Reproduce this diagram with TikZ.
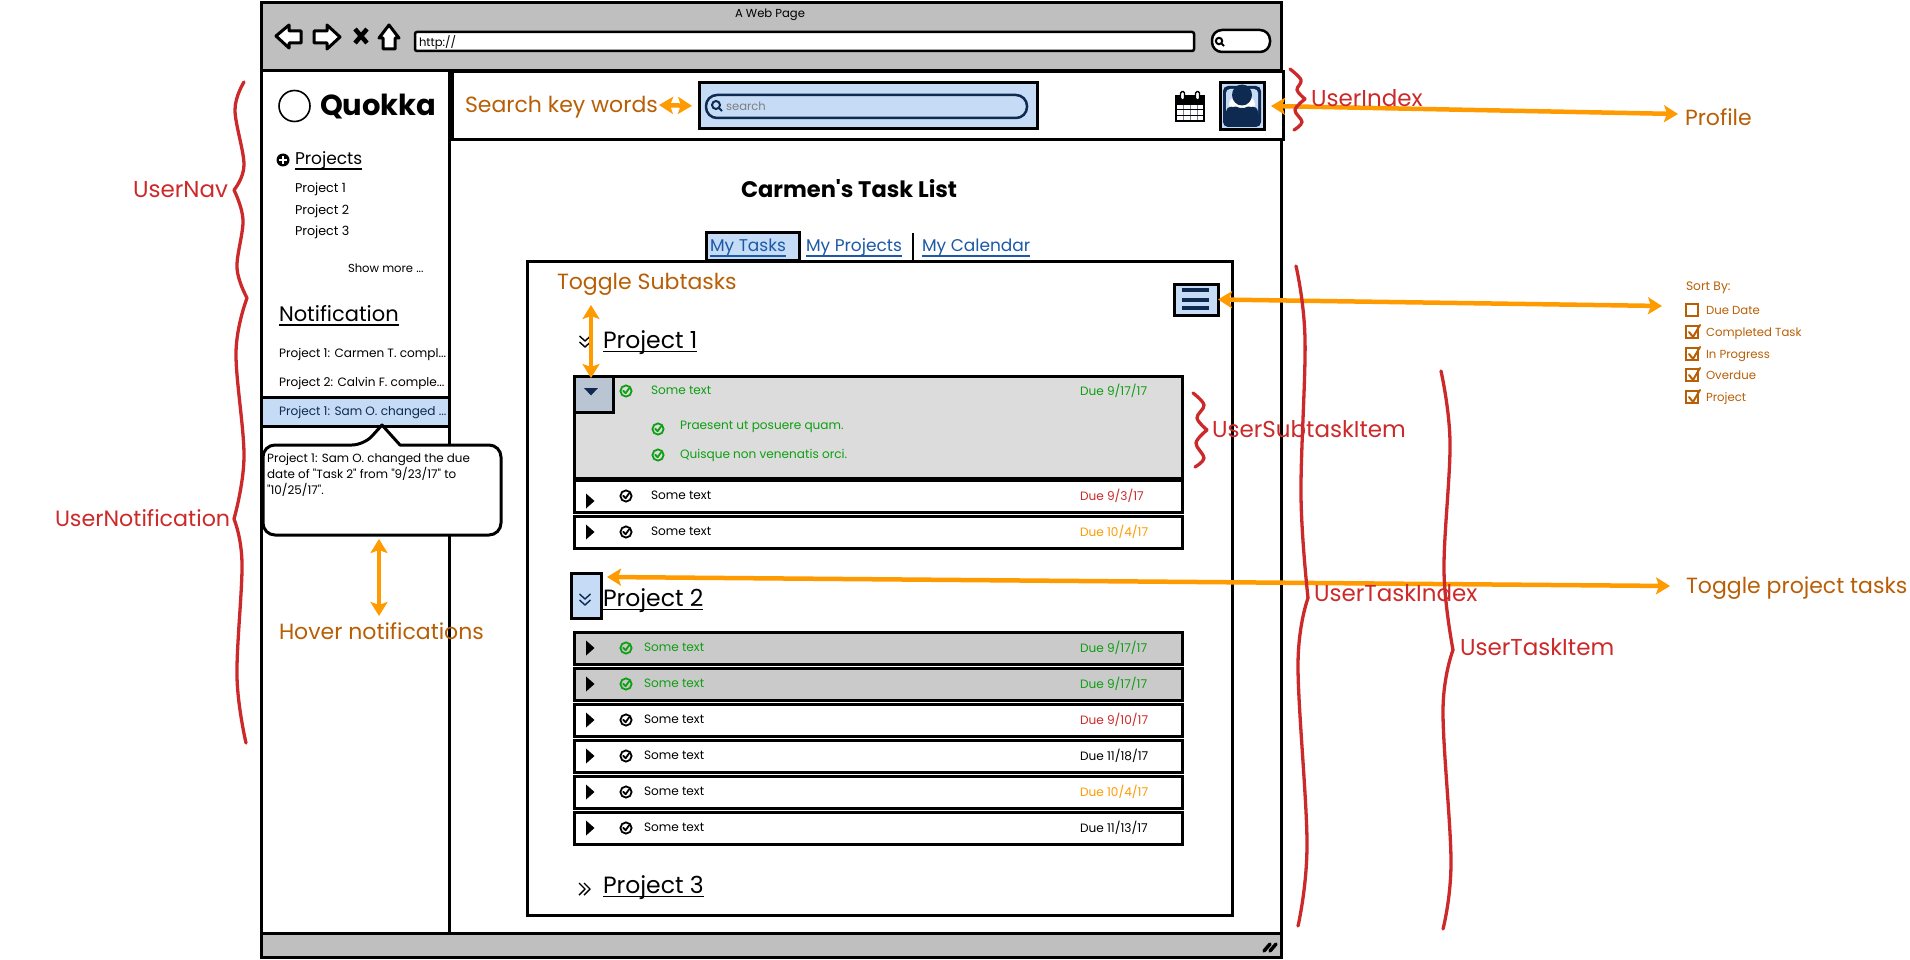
\documentclass[tikz,border=0pt]{standalone}
\usepackage{fontspec}
\setmainfont{Poppins}[Ligatures=TeXOff]
\usetikzlibrary{arrows.meta,calc}
\definecolor{gbar}{HTML}{BFBFBF}
\definecolor{lblue}{HTML}{C6DBF6}
\definecolor{navy}{HTML}{0F2A50}
\definecolor{ored}{HTML}{CC2A2A}
\definecolor{olab}{HTML}{B85F06}
\definecolor{oarr}{HTML}{FF9A00}
\definecolor{gtxt}{HTML}{0E9F12}
\definecolor{linkb}{HTML}{1C5AA6}
\definecolor{rowg}{HTML}{CACACA}
\definecolor{rowl}{HTML}{DCDCDC}
\tikzset{
  frame/.style={draw=black,line width=3pt,inner sep=0pt,outer sep=0pt,fill=white},
  txt/.style={anchor=west,inner sep=0pt,outer sep=0pt,yshift=-1.5pt,execute at begin node={\vphantom{Apj}}},
  oarrow/.style={draw=oarr,line width=4.5pt,{Stealth[length=14pt,width=17pt,inset=3pt]}-{Stealth[length=14pt,width=17pt,inset=3pt]}},
  redb/.style={draw=ored,line width=3.3pt,line cap=round,line join=round},
  lab/.style={txt,yshift=-1pt,text=olab,font=\fontsize{22}{24}\selectfont},
  redlab/.style={txt,yshift=-1pt,text=ored,font=\fontsize{23}{24}\selectfont},
  small/.style={txt,font=\fontsize{12.1}{14}\selectfont},
  head/.style={txt,yshift=-1pt,font=\fontsize{23.5}{26}\selectfont},
  tabt/.style={txt,yshift=-.5pt,text=linkb,font=\fontsize{17}{20}\selectfont},
}
% box: name, x1, y1, x2, y2, style
\newcommand{\boxn}[6]{\pgfmathsetmacro{\bw}{#4-#2}\pgfmathsetmacro{\bh}{#5-#3}
  \node[frame,anchor=north west,minimum width=\bw pt,minimum height=\bh pt,#6] (#1) at (#2,#3) {};}
\newcommand{\rcurve}[1]{\draw[redb] plot[smooth,tension=.6] coordinates {#1};}
\newcommand{\chk}[3]{\draw[#3,line width=1.8pt,fill=none] (#1,#2) circle (5.6pt);
  \draw[#3,line width=1.8pt,line cap=round,line join=round] ($(#1,#2)+(-2.8,-.3)$) -- ($(#1,#2)+(-.4,2.2)$) -- ($(#1,#2)+(3.2,-2.8)$);}
\newcommand{\tri}[2]{\fill[black] ($(#1,#2)+(-4,-7.5)$) -- ($(#1,#2)+(4.5,0)$) -- ($(#1,#2)+(-4,7.5)$) -- cycle;}
\newcommand{\dchev}[3]{\draw[#3,line width=1.4pt,line join=round] ($(#1,#2)+(-5.5,-6)$) -- ($(#1,#2)+(0,-1)$) -- ($(#1,#2)+(5.5,-6)$);
  \draw[#3,line width=1.4pt,line join=round] ($(#1,#2)+(-5.5,0)$) -- ($(#1,#2)+(0,5)$) -- ($(#1,#2)+(5.5,0)$);}
\newcommand{\uline}[2]{\draw[line width=1.4pt,#2] ($(#1.west)+(0,9)$) -- ($(#1.east)+(0,9)$);}
\def\tdy{0}
\newcommand{\row}[6]{% id, y centre, fill, text colour, textx, due
  \pgfmathsetmacro{\rt}{#2-16}\pgfmathsetmacro{\rb}{#2+16}\pgfmathsetmacro{\ty}{#2+\tdy}
  \boxn{r#1}{574}{\rt}{1182}{\rb}{fill=#3}
  \tri{590}{\ty}\chk{626}{#2}{#4}
  \node[small,text=#4] (rt#1) at (#5,#2-1) {Some text};
  \node[small,text=#6] (rd#1) at (1080,#2-1) {\dtxt};}
\newcommand{\cbx}[3]{\draw[olab,line width=1.2pt,fill=#3] (1686,#1-6) rectangle (1698,#1+6);
  \node[txt,text=olab,font=\fontsize{11.7}{15}\selectfont] at (1706,#1) {#2};}
\newcommand{\ckm}[1]{\draw[olab,line width=2pt,line cap=round] (1689,#1) -- (1693,#1+5) -- (1700,#1-7);}
\begin{document}
\begin{tikzpicture}[x=1pt,y=-1pt]
\useasboundingbox (0,0) rectangle (1910,960);
% window
\boxn{win}{261}{3}{1281}{957}{}
\boxn{top}{261}{3}{1281}{71}{fill=gbar}
\boxn{bot}{261}{933}{1281}{957}{fill=gbar}
\node[txt,anchor=center,font=\fontsize{11.6}{14}\selectfont] (title) at (770,13) {A Web Page};
\draw[line width=3pt,fill=white,line join=round] (276,36) -- (289,25) -- (289,31) -- (301,31) -- (301,43) -- (289,43) -- (289,48) -- cycle;
\draw[line width=3pt,fill=white,line join=round] (340,37) -- (327,25) -- (327,31) -- (314,31) -- (314,43) -- (327,43) -- (327,49) -- cycle;
\draw[line width=4.5pt] (355,29) -- (367,43) (367,29) -- (355,43);
\draw[line width=3pt,fill=white,line join=round] (389,25) -- (399,38) -- (395,38) -- (395,49) -- (383,49) -- (383,38) -- (379,38) -- cycle;
\boxn{url}{415}{32}{1194}{51}{line width=2.5pt,rounded corners=2pt}
\node[txt,font=\fontsize{11.6}{14}\selectfont] (http) at (419,41) {http://};
\boxn{sbx}{1212}{30}{1270}{52}{line width=2.5pt,rounded corners=10pt}
\draw[line width=2pt] (1219,41) circle (3.2pt) (1221.5,43.5) -- (1224,46);
% left nav
\boxn{nav}{261}{71}{449}{933}{}
\draw[line width=1.6pt,fill=white] (294.5,106) circle (15.5pt);
\node[txt,yshift=-1pt,font=\fontsize{29}{33}\selectfont\bfseries] (logo) at (320,105) {Quokka};
\fill (283,160) circle (6.5pt);
\draw[white,line width=2pt] (279,160) -- (287,160) (283,156) -- (283,164);
\node[txt,yshift=-.5pt,font=\fontsize{17}{19}\selectfont] (projs) at (295,158) {Projects};
\uline{projs}{yshift=2pt}
\node[txt,font=\fontsize{12.7}{14}\selectfont] (p1) at (295,188) {Project 1};
\node[txt,font=\fontsize{12.7}{14}\selectfont] (p2) at (295,210) {Project 2};
\node[txt,font=\fontsize{12.7}{14}\selectfont] (p3) at (295,231) {Project 3};
\node[txt,font=\fontsize{11.6}{14}\selectfont] (more) at (348,268) {Show more ...};
\node[txt,yshift=-.5pt,font=\fontsize{21}{24}\selectfont] (notif) at (279,314) {Notification};
\uline{notif}{}
\node[small] (n1) at (279,353) {Project 1: Carmen T. compl...};
\node[small] (n2) at (279,382) {Project 2: Calvin F. comple...};
\boxn{nhi}{261}{397}{449}{426}{fill=lblue}
\node[small,text=navy] (n3) at (279,411) {Project 1: Sam O. changed ...};
\draw[line width=3pt,fill=white,rounded corners=12pt,line join=round] (263,445) -- (364,445) [sharp corners] -- (382,425) -- (400,445) [rounded corners=12pt] -- (501,445) -- (501,535) -- (263,535) -- cycle;
\node[anchor=north west,inner sep=0pt,align=left,font=\fontsize{11.9}{16}\selectfont] (tip) at (267,453) {Project 1: Sam O. changed the due\\date of "Task 2" from "9/23/17" to\\"10/25/17".};
\coordinate (tipb) at (379,539);
\node[lab] (hover) at (279,631) {Hover notifications};
\coordinate (hovt) at (379,616);
\draw[oarrow] (tipb) -- (hovt);
% header bar
\boxn{hdr}{452}{72}{1283}{140}{}
\node[lab] (skw) at (465,104) {Search key words};
\boxn{srch}{699}{83}{1037}{129}{fill=lblue}
\boxn{spill}{706}{95}{1027}{118}{fill=lblue,draw=navy,line width=2.5pt,rounded corners=11pt}
\draw[navy,line width=2pt] (716,105) circle (4pt) (719,108) -- (722,111);
\node[txt,text=gray,font=\fontsize{11.6}{14}\selectfont] (stxt) at (726,106) {search};
\coordinate (skwe) at (659,105);
\draw[oarrow,shorten >=7pt] (skwe) -- (srch.west);
% calendar
\fill[white] (1176,94) rectangle (1203,121);
\fill (1175,96) rectangle (1204,105);
\foreach \x in {1183,1190,1197}{\draw[lblue!60!black,line width=1pt] (\x,105) -- (\x,121);}
\foreach \y in {110,115.5}{\draw[black,line width=1pt] (1176,\y) -- (1204,\y);}
\draw[line width=1.8pt] (1176,96) rectangle (1204,121);
\draw[black,fill=white,line width=1.4pt,rounded corners=1.5pt] (1180.5,91.5) rectangle (1184.5,100) (1195.5,91.5) rectangle (1199.5,100);
% avatar
\boxn{av}{1220}{83}{1264}{130}{fill=lblue}
\fill[navy,rounded corners=5pt] (1223,86) rectangle (1261,127);
\fill[lblue,rounded corners=4pt] (1226,89) rectangle (1258,124);
\fill[white] (1242,104) ellipse (13pt and 9pt);
\fill[navy,rounded corners=5pt] (1225,126) -- (1225,113) .. controls (1228,107) and (1234,106) .. (1236,105) .. controls (1240,108) and (1244,108) .. (1248,105) .. controls (1250,106) and (1256,107) .. (1259,113) -- (1259,126) -- cycle;
\fill[navy] (1242,95) ellipse (10pt and 10.5pt);
% heading and tabs
\node[txt,font=\fontsize{22.5}{25}\selectfont\bfseries] (hd) at (741,190) {Carmen's Task List};
\boxn{panel}{527}{261}{1232}{915}{}
\boxn{tab}{706}{232}{799}{260}{fill=lblue}
\node[tabt] (t1) at (710,245) {My Tasks};
\node[tabt] (t2) at (806,245) {My Projects};
\node[tabt] (t3) at (922,245) {My Calendar};
\uline{t1}{linkb,yshift=2pt}\uline{t2}{linkb,yshift=2pt}\uline{t3}{linkb,yshift=2pt}
\draw[line width=2pt] (913,233) -- (913,260);
\node[lab] (tog) at (557,282) {Toggle Subtasks};
% hamburger
\boxn{ham}{1174}{284}{1218}{315}{fill=lblue}
\foreach \y in {290,299.5,308}{\fill[navy] (1182,\y-2) rectangle (1209,\y+2);}
% project 1
\dchev{585}{342}{black}
\node[head] (pr1) at (603,340) {Project 1};
\uline{pr1}{}
\boxn{blk}{574}{376}{1182}{478}{fill=rowl}
\boxn{btn}{574}{376}{613}{412}{fill=lblue!65!gray!85}
\fill[navy] (584,388) -- (598,388) -- (591,395.5) -- cycle;
\chk{626}{391}{gtxt}
\node[small,text=gtxt] (st) at (651,390) {Some text};
\node[small,text=gtxt] (sd) at (1080,390) {Due 9/17/17};
\chk{658}{429}{gtxt}
\node[small,text=gtxt] (s1) at (680,425) {Praesent ut posuere quam.};
\chk{658}{455}{gtxt}
\node[small,text=gtxt] (s2) at (680,454) {Quisque non venenatis orci.};
\def\tdy{5}
\def\dtxt{Due 9/3/17}\row{a}{496}{white}{black}{651}{ored}
\def\tdy{0}
\def\dtxt{Due 10/4/17}\row{b}{532}{white}{black}{651}{oarr}
\coordinate (toga) at (591,305);
\coordinate (togb) at (591,378);
\draw[oarrow] (toga) -- (togb);
% project 2
\boxn{btn2}{571}{573}{601}{618}{fill=lblue}
\dchev{585}{600}{navy}
\node[head] (pr2) at (603,598) {Project 2};
\uline{pr2}{}
\def\dtxt{Due 9/17/17}\row{c}{648}{rowg}{gtxt}{644}{gtxt}
\def\dtxt{Due 9/17/17}\row{d}{684}{rowg}{gtxt}{644}{gtxt}
\def\dtxt{Due 9/10/17}\row{e}{720}{white}{black}{644}{ored}
\def\dtxt{Due 11/18/17}\row{f}{756}{white}{black}{644}{black}
\def\dtxt{Due 10/4/17}\row{g}{792}{white}{black}{644}{oarr}
\def\dtxt{Due 11/13/17}\row{h}{828}{white}{black}{644}{black}
% project 3
\draw[line width=1.4pt,line join=round] (579,883) -- (585,889) -- (579,895) (584,883) -- (590,889) -- (584,895);
\node[head] (pr3) at (603,885) {Project 3};
\uline{pr3}{}
% resize grip
\draw[line width=3.5pt,line cap=round] (1264,951) -- (1270,944) (1270,951) -- (1276,944);
% right annotations
\node[lab] (prof) at (1685,117) {Profile};
\coordinate (ave) at (1271,106);
\coordinate (profa) at (1678,114);
\draw[oarrow] (ave) -- (profa);
\node[txt,text=olab,font=\fontsize{12.3}{14}\selectfont] (sort) at (1686,286) {Sort By:};
\cbx{310}{Due Date}{white}
\cbx{332}{Completed Task}{white}\ckm{332}
\cbx{354}{In Progress}{white}\ckm{354}
\cbx{375}{Overdue}{white}\ckm{375}
\cbx{397}{Project}{white}\ckm{397}
\coordinate (sorta) at (1662,306);
\draw[oarrow] (ham.east) -- (sorta);
\node[lab] (tpt) at (1686,586) {Toggle project tasks};
\coordinate (tpa) at (607,577);
\coordinate (tpb) at (1670,586);
\draw[oarrow] (tpa) -- (tpb);
\node[redlab] (ui) at (1311,98) {UserIndex};
\node[redlab] (unav) at (133,189) {UserNav};
\node[redlab,font=\fontsize{22.2}{24}\selectfont] (unot) at (55,518) {UserNotification};
\node[redlab] (uti) at (1314,593) {UserTaskIndex};
\node[redlab] (usub) at (1212,429) {UserSubtaskItem};
\node[redlab] (uitem) at (1460,647) {UserTaskItem};
% braces
\rcurve{(1290,69) (1301,80) (1297,90) (1305,99)}
\rcurve{(1305,99) (1295,110) (1302,122) (1294,130)}
\rcurve{(244,82) (235,110) (244,165) (234,190)}
\rcurve{(234,190) (243,220) (237,268) (247,298)}
\rcurve{(247,298) (236,352) (244,457) (234,519)}
\rcurve{(234,519) (242,563) (237,677) (246,743)}
\rcurve{(1296,266) (1305,339) (1301,496) (1308,598)}
\rcurve{(1308,598) (1298,665) (1307,844) (1298,926)}
\rcurve{(1441,371) (1450,442) (1444,571) (1453,650)}
\rcurve{(1453,650) (1443,710) (1451,862) (1443,929)}
\rcurve{(1193,393) (1204,405) (1197,418) (1207,430)}
\rcurve{(1207,430) (1196,443) (1204,458) (1195,467)}
\end{tikzpicture}
\end{document}
